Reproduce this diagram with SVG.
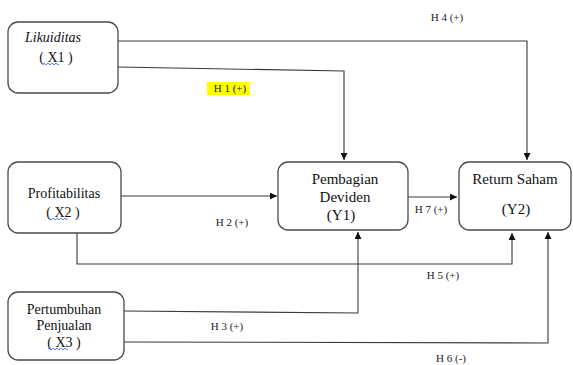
<svg xmlns="http://www.w3.org/2000/svg" width="573" height="365" viewBox="0 0 573 365">
<style>
text{font-family:"Liberation Serif","Times New Roman","DejaVu Serif",serif}
.box{fill:#fff;stroke:#4a4a4a;stroke-width:1.3}
.t{font-size:14px;fill:#111;text-anchor:middle}
.ty{font-size:15px;fill:#111;text-anchor:middle}
.lb{font-size:11px;fill:#222;text-anchor:middle}
.c{fill:none;stroke:#3a3a3a;stroke-width:1.1}
.sp{fill:none;stroke:#3355dd;stroke-width:0.8}
</style>
<defs>
<marker id="ah" viewBox="0 0 10 10" refX="10" refY="5" markerWidth="7" markerHeight="7" markerUnits="userSpaceOnUse" orient="auto">
<path d="M0,0 L10,5 L0,10 z" fill="#111"/>
</marker>
</defs>
<rect width="573" height="365" fill="#fff"/>
<g id="connectors">
<path class="c" d="M118,41 L527,41 L527,160" marker-end="url(#ah)"/>
<path class="c" d="M118,67 L344,71 L344,160" marker-end="url(#ah)"/>
<path class="c" d="M121,196 L277,196" marker-end="url(#ah)"/>
<path class="c" d="M408,197 L457,197" marker-end="url(#ah)"/>
<path class="c" d="M77,233 L77,264 L512,264 L512,233" marker-end="url(#ah)"/>
<path class="c" d="M124,311 L358,313 L358,232" marker-end="url(#ah)"/>
<path class="c" d="M124,342 L548,343 L548,232" marker-end="url(#ah)"/>
<text class="lb" x="447" y="21">H 4 (+)</text>
<rect x="207" y="82" width="43" height="13" fill="#ffff00"/>
<text class="lb" x="230" y="92">H 1 (+)</text>
<text class="lb" x="232" y="226">H 2 (+)</text>
<text class="lb" x="431" y="213">H 7 (+)</text>
<text class="lb" x="443" y="279">H 5 (+)</text>
<text class="lb" x="227" y="330">H 3 (+)</text>
<text class="lb" x="451" y="362">H 6 (-)</text>
</g>
<g id="x1">
<rect class="box" x="8" y="22" width="110" height="71" rx="10"/>
<text class="t" x="53" y="42" font-style="italic">Likuiditas</text>
<text class="t" x="56" y="62">( X1 )</text>
<path class="sp" d="M43,64 q1,-1.5 2,0 t2,0 t2,0 t2,0 t2,0 t2,0 t2,0 t2,0"/>
</g>
<g id="x2">
<rect class="box" x="8" y="162" width="113" height="71" rx="10"/>
<text class="t" x="64" y="198">Profitabilitas</text>
<text class="t" x="63" y="217">( X2 )</text>
<path class="sp" d="M48,219 q1,-1.5 2,0 t2,0 t2,0 t2,0 t2,0 t2,0 t2,0 t2,0 t2,0 t2,0"/>
</g>
<g id="x3">
<rect class="box" x="8" y="292" width="116" height="68" rx="10"/>
<text class="t" x="64" y="314">Pertumbuhan</text>
<text class="t" x="64" y="330">Penjualan</text>
<text class="t" x="64" y="347">( X3 )</text>
<path class="sp" d="M48,349 q1,-1.5 2,0 t2,0 t2,0 t2,0 t2,0 t2,0 t2,0 t2,0 t2,0 t2,0"/>
</g>
<g id="y1">
<rect class="box" x="278" y="162" width="130" height="68" rx="10"/>
<text class="ty" x="345" y="184">Pembagian</text>
<text class="ty" x="345" y="202">Deviden</text>
<text class="ty" x="341" y="220">(Y1)</text>
</g>
<g id="y2">
<rect class="box" x="459" y="162" width="112" height="68" rx="10"/>
<text class="ty" x="515" y="184">Return Saham</text>
<text class="ty" x="516" y="214">(Y2)</text>
</g>
</svg>
